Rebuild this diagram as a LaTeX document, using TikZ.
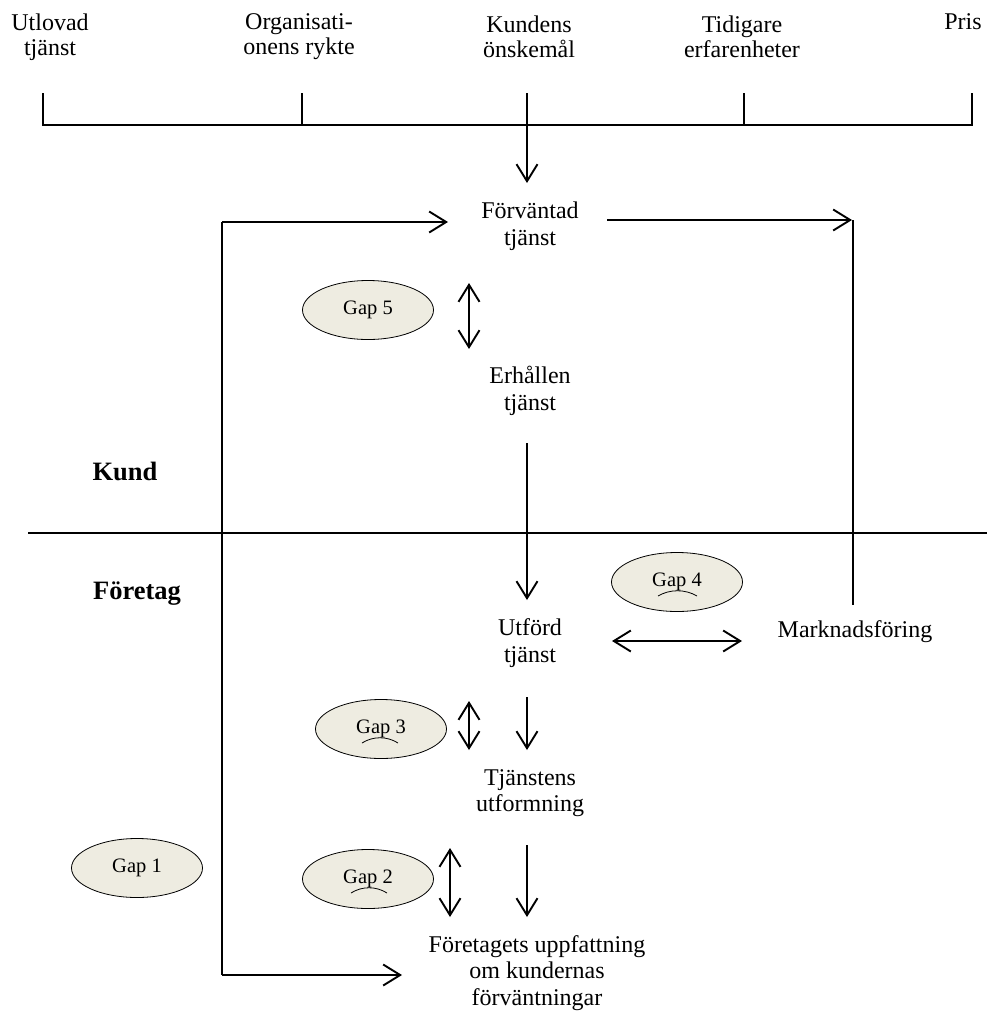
\documentclass[tikz,border=0pt]{standalone}
\usepackage{fontspec}
\setmainfont{Liberation Serif}
\usetikzlibrary{arrows.meta,shapes.geometric}
\begin{document}
\begin{tikzpicture}[x=1pt,y=-1pt,
  txt/.style={align=center,inner sep=0pt,font=\fontsize{24}{26.5}\selectfont},
  toptxt/.style={align=center,inner sep=0pt,font=\fontsize{24}{25}\selectfont},
  bld/.style={inner sep=0pt,font=\fontsize{26.5}{28}\selectfont\bfseries},
  gap/.style={draw=black,line width=0.8pt,fill=gapfill,ellipse,minimum width=131pt,minimum height=59pt,inner sep=0pt,font=\fontsize{20.5}{22}\selectfont},
  ln/.style={line width=1.5pt},
  tip/.tip={Straight Barb[length=17pt,width=21pt,line width=1.9pt]},
  arr/.style={line width=1.9pt,-tip},
  darr/.style={line width=1.9pt,tip-tip},
  squig/.style={line width=0.8pt}
]
\definecolor{gapfill}{HTML}{EEECE1}
\useasboundingbox (0,0) rectangle (989,1018);

% top labels
\node[toptxt] (utl) at (50,37) {Utlovad\\tjänst};
\node[toptxt] (org) at (299,37) {Organisati-\\onens rykte};
\node[toptxt] (kon) at (529,37) {Kundens\\önskemål};
\node[toptxt] (tid) at (742,37) {Tidigare\\erfarenheter};
\node[toptxt] (pris) at (963,22) {Pris};

% bracket
\coordinate (b1t) at (43,93);  \coordinate (b1) at (43,125);
\coordinate (b2t) at (302,93); \coordinate (b2) at (302,125);
\coordinate (b3t) at (527,93); \coordinate (b3) at (527,125);
\coordinate (b4t) at (744,93); \coordinate (b4) at (744,125);
\coordinate (b5t) at (972,93); \coordinate (b5) at (972,125);
\draw[ln] (b1t) -- (b1) -- (b5) -- (b5t);
\draw[ln] (b2t) -- (b2);
\draw[ln] (b4t) -- (b4);

% main nodes
\node[txt] (forv) at (530,226) {Förväntad\\tjänst};
\node[txt] (erh) at (530,391) {Erhållen\\tjänst};
\node[txt] (utf) at (530,643) {Utförd\\tjänst};
\node[txt] (tjf) at (530,793) {Tjänstens\\utformning};
\node[txt] (ftg) at (537,973) {Företagets uppfattning\\om kundernas\\förväntningar};
\node[txt] (mkt) at (855,632) {Marknadsföring};

\node[bld] (kund) at (125,471) {Kund};
\node[bld] (foretag) at (137,594) {Företag};

% gaps
\node[gap] (g5) at (368,310) {Gap 5};
\node[gap] (g4) at (677,582) {Gap 4};
\node[gap] (g3) at (381,729) {Gap 3};
\node[gap] (g1) at (137,868) {Gap 1};
\node[gap] (g2) at (368,879) {Gap 2};

% small marks under gap texts
\draw[squig] (658,596) .. controls (670,589) and (685,589) .. (697,596);
\draw[squig] (362,743) .. controls (373,736) and (387,736) .. (398,743);
\draw[squig] (351,893) .. controls (362,886) and (376,886) .. (387,893);

% divider
\coordinate (dl) at (28,533); \coordinate (dr) at (987,533);
\draw[ln] (dl) -- (dr);

% arrows
\coordinate (kdown) at (527,183);
\draw[arr] (b3t) -- (kdown);

\coordinate (lt) at (222,222); \coordinate (lb) at (222,975);
\coordinate (lta) at (448,222); \coordinate (lba) at (402,975);
\draw[ln] (lt) -- (lb);
\draw[arr] (lt) -- (lta);
\draw[arr] (lb) -- (lba);

\coordinate (fr1) at (607,220); \coordinate (fr2) at (852,220);
\coordinate (mtop) at (853,220); \coordinate (mbot) at (853,605);
\draw[arr] (fr1) -- (fr2);
\draw[ln] (mtop) -- (mbot);

\coordinate (d5a) at (469,283); \coordinate (d5b) at (469,349);
\draw[darr] (d5a) -- (d5b);

\coordinate (e1) at (527,443); \coordinate (e2) at (527,600);
\draw[arr] (e1) -- (e2);

\coordinate (h4a) at (612,641); \coordinate (h4b) at (742,641);
\draw[darr] (h4a) -- (h4b);

\coordinate (d3a) at (469,701); \coordinate (d3b) at (469,750);
\draw[darr] (d3a) -- (d3b);
\coordinate (u1) at (527,697); \coordinate (u2) at (527,750);
\draw[arr] (u1) -- (u2);

\coordinate (d2a) at (450,848); \coordinate (d2b) at (450,917);
\draw[darr] (d2a) -- (d2b);
\coordinate (t1) at (527,845); \coordinate (t2) at (527,917);
\draw[arr] (t1) -- (t2);
\end{tikzpicture}
\end{document}
